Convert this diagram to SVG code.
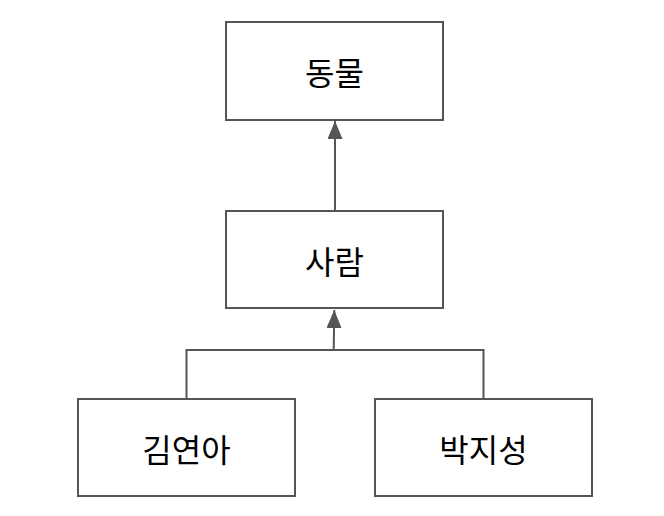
<svg xmlns="http://www.w3.org/2000/svg" width="664" height="516" viewBox="0 0 664 516">
<style>
.box{fill:#fff;stroke:#555;stroke-width:2}
.lbl{font-family:"Noto Sans CJK KR","Noto Sans",sans-serif;font-size:32px;fill:#000;text-anchor:middle;dominant-baseline:central}
.edge{fill:none;stroke:#555;stroke-width:2}
</style>
<defs>
<marker id="tri" markerUnits="userSpaceOnUse" markerWidth="18" markerHeight="15" refX="18" refY="7.5" orient="auto" viewBox="0 0 18 15">
<path d="M0,0 L18,7.5 L0,15 Z" fill="#555"/>
</marker>
</defs>
<rect width="664" height="516" fill="#fff"/>
<g id="edges">
<path class="edge" d="M335,211 L335,121" marker-end="url(#tri)"/>
<path class="edge" d="M186.5,399 L186.5,350 L483.5,350 L483.5,399"/>
<path class="edge" d="M333.7,350 L334.3,310" marker-end="url(#tri)"/>
</g>
<g id="n-animal"><rect class="box" x="226" y="22" width="217" height="98"/><text class="lbl" x="334.5" y="71">동물</text></g>
<g id="n-person"><rect class="box" x="226" y="211" width="217" height="97"/><text class="lbl" x="334.5" y="259.5">사람</text></g>
<g id="n-kim"><rect class="box" x="78" y="399" width="217" height="97"/><text class="lbl" x="186.5" y="447.5">김연아</text></g>
<g id="n-park"><rect class="box" x="375" y="399" width="217" height="97"/><text class="lbl" x="483.5" y="447.5">박지성</text></g>
</svg>
